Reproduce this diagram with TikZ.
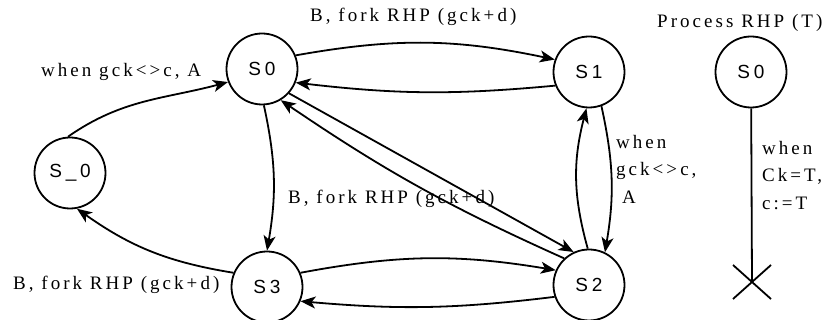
\documentclass[tikz,border=0pt]{standalone}
\usepackage{fontspec}
\setmainfont{Liberation Serif}[LetterSpace=16]
\newfontfamily\stfont{Liberation Sans}[LetterSpace=20]
\usetikzlibrary{arrows.meta,calc}
\begin{document}
\begin{tikzpicture}[x=1pt,y=1pt,
  state/.style={circle,draw,line width=1.8pt,minimum size=71pt,inner sep=0pt,
    font=\stfont\fontsize{19}{22}\selectfont},
  edge/.style={line width=1.8pt,-{Stealth[length=15pt,width=12pt,inset=4pt]}},
  lbl/.style={inner sep=0pt,font=\fontsize{19}{27.5}\selectfont}]
\useasboundingbox (0,0) rectangle (833,320);
\node[state] (S0) at (262,251) {S0};
\node[state] (S1) at (589,248) {S1};
\node[state] (Sx) at (70,147) {S\_0};
\node[state] (S3) at (267,33) {S3};
\node[state] (S2) at (589,35) {S2};
\node[state] (P0) at (751,248) {S0};
\coordinate (X) at (752,38);

\draw[edge] (S0.22) to[bend left=11] (S1.160);
\draw[edge] (S1.202) to[bend left=6] (S0.338);
\draw[edge] (Sx.93) to[out=35,in=195] (S0.201);
\draw[edge] (S0.273) to[bend left=11] (S3.90);
\draw[edge] (S3.157) to[bend left=13] (Sx.281);
\draw[edge] (S2.133) to[bend left=5] (S0.301);
\draw[edge] (S0.318) -- (S2.115);
\draw[edge] (S3.23) to[bend left=10] (S2.156);
\draw[edge] (S2.199) to[bend left=6] (S3.337);
\draw[edge] (S2.92) to[bend left=15] (S1.266);
\draw[edge] (S1.290) to[bend left=11] (S2.64);

\draw[line width=1.8pt] (P0) -- (X);
\draw[line width=1.8pt] ($(X)+(-19,17)$) -- ($(X)+(19,-17)$);
\draw[line width=1.8pt] ($(X)+(-19,-17)$) -- ($(X)+(19,17)$);

\node[lbl,anchor=base west] (l1) at (310,298.3) {B, fork RHP (gck+d)};
\node[lbl,anchor=base west] (l2) at (41,243.3) {when gck<>c, A};
\node[lbl,anchor=base west] (l3) at (657,292.7) {Process RHP (T)};
\node[lbl,anchor=base west] (l4) at (288,116) {B, fork RHP (gck+d)};
\node[lbl,anchor=base west] (l5) at (13,30) {B, fork RHP (gck+d)};
\node[lbl,anchor=west,align=left] (l6) at (616,150.7) {when\\gck<>c,\\\hspace*{6pt}A};
\node[lbl,anchor=west,align=left] (l7) at (762,144.6) {when\\Ck=T,\\c:=T};
\end{tikzpicture}
\end{document}
